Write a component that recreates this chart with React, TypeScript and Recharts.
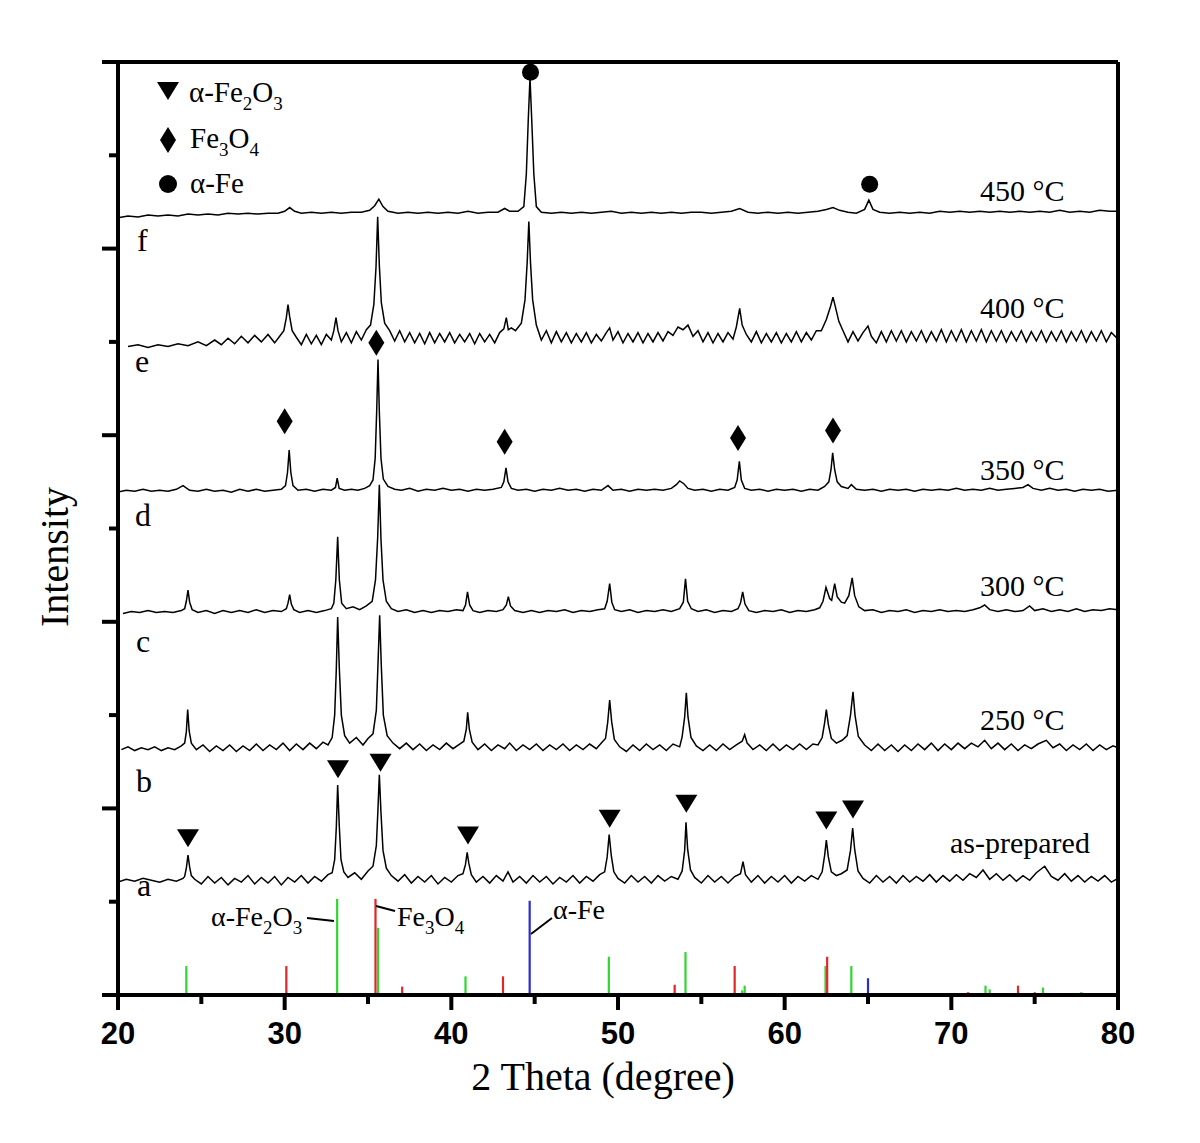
import React from 'react';
import { ComposedChart, Line, Scatter, XAxis, YAxis, ReferenceLine } from 'recharts';

// 2θ tick marks and intensity ticks (a.u., stacked patterns)
const xTicks = [20, 25, 30, 35, 40, 45, 50, 55, 60, 65, 70, 75, 80];
const yTicks = [0, 100, 200, 300, 400, 500, 600, 700, 800, 900, 1000];

// XRD patterns [2θ, intensity] (vertically stacked as in the figure)
const asPrepared: number[][] = [
  [20.0,121],[20.5,124],[21.0,122],[21.5,125],[22.0,123],[22.5,121],[23.0,124],[23.5,122],[23.9,125],
  [24.0,127],[24.1,136],[24.2,150],[24.3,137],[24.4,128],
  [24.6,124],[25.0,119],[25.4,127],[25.8,120],[26.2,126],[26.6,118],[27.0,125],[27.4,121],[27.8,128],[28.2,119],[28.6,126],[29.0,120],[29.4,127],[29.8,118],[30.2,126],[30.6,121],[31.0,128],[31.4,120],[31.8,127],[32.2,122],[32.6,129],
  [32.85,131],[33.0,145],[33.1,180],[33.18,225],[33.28,180],[33.38,145],[33.55,132],
  [33.8,126],[34.2,131],[34.6,124],[35.0,133],
  [35.3,138],[35.5,160],[35.6,200],[35.68,236],[35.78,195],[35.9,155],[36.1,136],
  [36.4,128],[36.8,122],[37.2,129],[37.6,120],[38.0,127],[38.4,121],[38.8,128],[39.2,119],[39.6,126],[40.0,121],[40.4,128],
  [40.7,130],[40.85,140],[40.95,153],[41.05,141],[41.2,129],
  [41.5,121],[41.9,127],[42.3,120],[42.7,128],[43.1,122],[43.4,132],[43.7,121],[44.1,127],[44.5,120],[44.9,128],[45.3,121],[45.7,127],[46.1,119],[46.5,126],[46.9,121],[47.3,128],[47.7,120],[48.1,127],[48.5,122],[48.9,129],
  [49.2,132],[49.35,148],[49.47,172],[49.6,149],[49.75,132],
  [50.0,125],[50.4,120],[50.8,128],[51.2,121],[51.6,127],[52.0,120],[52.4,128],[52.8,122],[53.2,127],[53.6,124],
  [53.85,133],[54.0,155],[54.08,185],[54.18,156],[54.35,134],
  [54.6,126],[55.0,120],[55.4,128],[55.8,121],[56.2,127],[56.6,120],[57.0,127],[57.35,130],[57.5,143],[57.65,129],[58.0,121],[58.4,128],[58.8,120],[59.2,127],[59.6,121],[60.0,128],[60.4,120],[60.8,127],[61.2,122],[61.6,128],[62.0,124],
  [62.25,132],[62.4,150],[62.5,166],[62.62,148],[62.8,132],[63.1,128],[63.4,130],
  [63.75,134],[63.95,155],[64.08,179],[64.2,156],[64.4,133],
  [64.7,125],[65.1,120],[65.5,128],[65.9,121],[66.3,127],[66.7,120],[67.1,128],[67.5,121],[67.9,127],[68.3,122],[68.7,129],[69.1,121],[69.5,128],[69.9,122],[70.3,129],[70.7,123],[71.1,130],[71.5,126],[71.9,134],[72.3,124],[72.7,130],[73.1,123],[73.5,129],[73.9,122],[74.3,128],[74.7,123],[75.1,131],[75.6,138],[76.0,127],[76.4,123],[76.8,130],[77.2,122],[77.6,128],[78.0,121],[78.4,127],[78.8,122],[79.2,128],[79.6,121],[80.0,125],
];

const t250: number[][] = [
  [20.2,263],[20.6,266],[21.0,262],[21.4,265],[21.8,263],[22.2,266],[22.6,262],[23.0,265],[23.4,263],[23.8,267],
  [24.0,270],[24.1,282],[24.18,306],[24.27,283],[24.4,270],
  [24.7,263],[25.1,268],[25.5,261],[25.9,267],[26.3,262],[26.7,268],[27.1,261],[27.5,267],[27.9,262],[28.3,269],[28.7,262],[29.1,268],[29.5,263],[29.9,270],[30.3,262],[30.7,269],[31.1,263],[31.5,270],[31.9,264],[32.3,271],[32.6,268],
  [32.85,276],[33.0,300],[33.1,350],[33.18,405],[33.28,350],[33.4,300],[33.6,278],
  [33.9,270],[34.3,276],[34.7,268],[35.0,275],
  [35.3,280],[35.5,305],[35.6,355],[35.7,407],[35.8,352],[35.92,300],[36.15,278],
  [36.5,270],[36.9,264],[37.3,270],[37.7,263],[38.1,269],[38.5,262],[38.9,268],[39.3,263],[39.7,270],[40.1,264],[40.5,269],
  [40.75,272],[40.9,285],[40.98,303],[41.08,285],[41.25,271],
  [41.6,263],[42.0,269],[42.4,262],[42.8,268],[43.2,264],[43.5,270],[43.9,262],[44.3,268],[44.7,263],[45.1,269],[45.5,262],[45.9,268],[46.3,263],[46.7,269],[47.1,262],[47.5,268],[47.9,263],[48.3,269],[48.7,264],[49.0,270],
  [49.25,275],[49.38,292],[49.5,316],[49.62,293],[49.78,274],
  [50.1,266],[50.5,261],[50.9,268],[51.3,262],[51.7,269],[52.1,263],[52.5,268],[52.9,262],[53.3,269],[53.7,266],
  [53.85,277],[54.0,298],[54.1,324],[54.2,298],[54.38,276],
  [54.7,267],[55.1,262],[55.5,268],[55.9,262],[56.3,269],[56.7,263],[57.1,268],[57.45,272],[57.6,279],[57.75,270],[58.1,263],[58.5,268],[58.9,262],[59.3,269],[59.7,262],[60.1,268],[60.5,263],[60.9,269],[61.3,263],[61.7,269],[62.0,268],
  [62.25,276],[62.4,292],[62.5,306],[62.62,290],[62.8,275],[63.1,270],[63.45,273],
  [63.75,278],[63.95,300],[64.1,325],[64.22,300],[64.42,277],
  [64.8,268],[65.2,262],[65.6,269],[66.0,262],[66.4,268],[66.8,261],[67.2,268],[67.6,262],[68.0,269],[68.4,263],[68.8,270],[69.2,262],[69.6,269],[70.0,263],[70.4,270],[70.8,264],[71.2,270],[71.6,266],[72.0,273],[72.4,264],[72.8,270],[73.2,263],[73.6,269],[74.0,262],[74.4,268],[74.8,264],[75.2,269],[75.7,273],[76.1,265],[76.5,269],[76.9,262],[77.3,268],[77.7,263],[78.1,269],[78.5,262],[78.9,268],[79.3,263],[79.7,267],[80.0,265],
];

const t300: number[][] = [
  [20.3,409],[20.8,411],[21.3,410],[21.8,412],[22.3,410],[22.8,411],[23.3,410],[23.8,412],
  [24.0,414],[24.1,422],[24.2,434],[24.3,421],[24.45,413],
  [24.8,410],[25.3,412],[25.8,409],[26.3,412],[26.8,410],[27.3,412],[27.8,410],[28.3,413],[28.8,410],[29.3,412],[29.8,411],
  [30.1,414],[30.2,420],[30.3,429],[30.4,419],[30.55,413],
  [30.9,410],[31.4,412],[31.9,410],[32.4,412],[32.8,414],
  [32.95,420],[33.07,445],[33.18,491],[33.28,445],[33.42,420],
  [33.7,414],[34.1,416],[34.5,413],[34.9,417],
  [35.25,422],[35.45,445],[35.58,490],[35.68,547],[35.78,488],[35.9,445],[36.1,422],
  [36.4,414],[36.8,411],[37.3,413],[37.8,410],[38.3,412],[38.8,410],[39.3,412],[39.8,411],[40.3,413],[40.7,412],
  [40.85,418],[40.97,432],[41.1,418],[41.3,412],
  [41.7,410],[42.2,412],[42.7,411],[43.1,413],
  [43.3,418],[43.42,427],[43.55,417],[43.8,412],
  [44.3,410],[44.8,412],[45.3,410],[45.8,412],[46.3,411],[46.8,413],[47.3,410],[47.8,412],[48.3,411],[48.8,413],[49.2,414],
  [49.35,422],[49.5,441],[49.63,421],[49.8,413],
  [50.2,411],[50.7,413],[51.2,410],[51.7,412],[52.2,411],[52.7,413],[53.2,411],[53.7,414],
  [53.92,421],[54.05,446],[54.18,422],[54.4,414],
  [54.8,411],[55.3,413],[55.8,410],[56.3,412],[56.8,411],[57.2,414],
  [57.35,420],[57.48,432],[57.62,419],[57.85,412],
  [58.3,410],[58.8,412],[59.3,411],[59.8,413],[60.3,410],[60.8,412],[61.3,411],[61.8,413],[62.1,415],
  [62.3,422],[62.48,437],[62.7,425],[62.82,423],[63.0,441],[63.15,427],[63.4,421],[63.6,420],[63.85,428],[64.05,447],[64.2,428],[64.45,416],
  [64.8,412],[65.3,413],[65.8,410],[66.3,412],[66.8,411],[67.3,413],[67.8,410],[68.3,412],[68.8,411],[69.3,413],[69.8,411],[70.3,412],[70.8,411],[71.3,413],[71.7,415],[72.0,418],[72.3,413],[72.8,411],[73.3,413],[73.8,411],[74.3,412],[74.7,417],[75.0,412],[75.5,414],[76.0,411],[76.5,413],[77.0,411],[77.5,414],[78.0,411],[78.5,413],[79.0,412],[79.5,414],[80.0,413],
];

const t350: number[][] = [
  [20.0,539],[20.5,541],[21.0,540],[21.5,542],[22.0,540],[22.5,541],[23.0,540],[23.5,542],[23.9,546],[24.3,541],[24.8,540],[25.3,542],[25.8,540],[26.3,541],[26.8,539],[27.3,542],[27.8,540],[28.3,542],[28.8,540],[29.3,541],[29.8,542],
  [30.05,546],[30.17,560],[30.27,584],[30.37,560],[30.5,546],
  [30.8,541],[31.3,542],[31.8,540],[32.3,542],[32.8,541],[33.05,544],[33.15,554],[33.27,543],[33.6,541],[34.0,542],[34.4,541],[34.8,543],[35.1,546],
  [35.3,552],[35.43,575],[35.52,625],[35.6,681],[35.68,625],[35.78,575],[35.92,553],[36.2,545],
  [36.6,542],[37.0,541],[37.5,543],[38.0,540],[38.5,542],[39.0,541],[39.5,543],[40.0,541],[40.5,542],[41.0,540],[41.5,542],[42.0,541],[42.5,542],[43.0,544],
  [43.15,550],[43.28,565],[43.4,550],[43.6,543],
  [44.0,541],[44.5,542],[45.0,540],[45.5,542],[46.0,541],[46.5,543],[47.0,541],[47.5,542],[48.0,540],[48.5,542],[49.0,541],[49.4,546],[49.7,541],[50.2,542],[50.7,540],[51.2,542],[51.7,541],[52.2,542],[52.7,541],[53.2,543],
  [53.5,547],[53.7,551],[53.95,548],[54.2,543],
  [54.6,541],[55.1,542],[55.6,540],[56.1,542],[56.6,541],[57.0,544],
  [57.15,552],[57.28,572],[57.4,552],[57.6,543],
  [58.0,541],[58.5,542],[59.0,540],[59.5,542],[60.0,541],[60.5,542],[61.0,540],[61.5,542],[62.0,541],[62.4,545],
  [62.65,550],[62.78,563],[62.88,581],[63.0,563],[63.15,550],[63.4,545],
  [63.8,543],[64.0,547],[64.3,542],[64.8,541],[65.3,542],[65.8,540],[66.3,542],[66.8,541],[67.3,542],[67.8,540],[68.3,542],[68.8,541],[69.3,542],[69.8,541],[70.3,543],[70.8,541],[71.3,542],[71.8,541],[72.3,543],[72.8,541],[73.3,542],[73.8,543],[74.3,544],[74.6,547],[74.9,543],[75.4,541],[75.9,543],[76.4,541],[76.9,542],[77.4,540],[77.9,542],[78.4,541],[78.9,542],[79.4,540],[80.0,541],
];

const t400: number[][] = [
  [20.6,695],[21.2,697],[21.8,694],[22.4,697],[23.0,695],[23.6,698],[24.2,696],[24.8,700],[25.3,696],[25.8,702],[26.2,697],[26.6,704],[27.0,698],[27.4,706],[27.8,699],[28.2,707],[28.6,700],[29.0,708],[29.4,699],[29.7,706],
  [29.95,712],[30.1,726],[30.2,740],[30.3,727],[30.45,712],
  [30.7,705],[31.0,697],[31.3,708],[31.6,698],[31.9,707],[32.2,697],[32.5,708],[32.8,702],
  [32.95,712],[33.08,726],[33.2,712],[33.4,700],[33.7,710],[34.0,699],[34.3,711],[34.6,702],[34.9,713],
  [35.15,718],[35.35,740],[35.48,780],[35.58,834],[35.68,782],[35.8,742],[36.0,720],
  [36.3,712],[36.6,701],[36.9,712],[37.2,700],[37.5,710],[37.8,699],[38.1,709],[38.4,698],[38.7,710],[39.0,699],[39.3,709],[39.6,700],[39.9,710],[40.2,699],[40.5,708],[40.8,700],[41.1,709],[41.4,698],[41.7,709],[42.0,700],[42.3,708],[42.6,699],[42.9,710],
  [43.15,714],[43.3,726],[43.42,713],[43.6,715],[43.85,712],
  [44.2,720],[44.42,745],[44.55,785],[44.65,829],[44.75,785],[44.88,745],[45.1,718],
  [45.4,702],[45.7,712],[46.0,699],[46.3,711],[46.6,700],[46.9,710],[47.2,699],[47.5,709],[47.8,700],[48.1,710],[48.4,699],[48.7,708],[49.0,701],[49.3,710],
  [49.5,715],[49.7,702],
  [50.0,711],[50.3,699],[50.6,709],[50.9,700],[51.2,710],[51.5,699],[51.8,709],[52.1,700],[52.4,710],[52.7,701],[53.0,711],
  [53.3,707],[53.6,716],[53.9,713],[54.2,718],[54.5,706],[54.8,712],
  [55.1,700],[55.4,710],[55.7,699],[56.0,709],[56.3,700],[56.6,710],[56.9,703],
  [57.1,716],[57.3,736],[57.45,718],[57.7,708],
  [58.0,700],[58.3,711],[58.6,699],[58.9,709],[59.2,700],[59.5,710],[59.8,699],[60.1,709],[60.4,700],[60.7,711],[61.0,700],[61.3,710],[61.6,702],[61.9,712],
  [62.2,712],[62.5,724],[62.75,738],[62.9,748],[63.05,737],[63.25,722],[63.5,712],
  [63.8,700],[64.1,711],[64.4,701],[64.7,710],[65.0,717],[65.2,706],
  [65.5,699],[65.8,711],[66.1,700],[66.4,712],[66.7,701],[67.0,712],[67.3,700],[67.6,711],[67.9,701],[68.2,712],[68.5,700],[68.8,711],[69.1,701],[69.4,713],[69.7,700],[70.0,712],[70.3,701],[70.6,713],[70.9,700],[71.2,712],[71.5,701],[71.8,713],[72.1,700],[72.4,712],[72.7,701],[73.0,712],[73.3,700],[73.6,711],[73.9,701],[74.2,712],[74.5,700],[74.8,711],[75.1,701],[75.4,712],[75.7,700],[76.0,711],[76.3,701],[76.6,712],[76.9,700],[77.2,711],[77.5,701],[77.8,712],[78.1,700],[78.4,711],[78.7,701],[79.0,712],[79.3,700],[79.6,710],[80.0,703],
];

const t450: number[][] = [
  [20.0,833],[20.6,835],[21.2,834],[21.8,836],[22.4,835],[23.0,836],[23.6,835],[24.2,837],[24.8,836],[25.4,837],[26.0,836],[26.6,838],[27.2,837],[27.8,838],[28.4,837],[29.0,838],[29.6,838],[30.0,840],[30.3,844],[30.6,840],[31.0,838],[31.6,839],[32.2,838],[32.8,839],[33.4,838],[34.0,839],[34.6,839],[35.1,841],[35.4,846],[35.65,853],[35.9,845],[36.2,840],[36.8,838],[37.4,839],[38.0,838],[38.6,839],[39.2,838],[39.8,839],[40.4,838],[41.0,840],[41.6,838],[42.2,839],[42.8,839],[43.2,843],[43.5,840],[44.0,840],
  [44.35,845],[44.5,880],[44.62,940],[44.72,983],[44.82,940],[44.95,880],[45.1,845],
  [45.4,839],[46.0,838],[46.6,839],[47.2,838],[47.8,839],[48.4,838],[49.0,839],[49.6,840],[50.2,838],[50.8,839],[51.4,838],[52.0,839],[52.6,838],[53.2,839],[53.8,838],[54.4,839],[55.0,839],[55.6,838],[56.2,839],[56.8,840],[57.3,843],[57.8,839],[58.4,838],[59.0,839],[59.6,838],[60.2,839],[60.8,838],[61.4,839],[62.0,840],[62.5,842],[62.9,844],[63.3,841],[63.8,839],[64.3,838],[64.8,842],[65.05,852],[65.3,842],[65.7,839],[66.3,838],[66.9,839],[67.5,838],[68.1,839],[68.7,838],[69.3,840],[69.9,839],[70.5,840],[71.1,839],[71.7,840],[72.3,839],[72.9,840],[73.5,839],[74.1,840],[74.7,839],[75.3,840],[75.9,839],[76.5,841],[77.1,839],[77.7,840],[78.3,839],[78.9,841],[79.5,840],[80.0,840],
];

// Phase markers [2θ, position]
const hematiteMarks: number[][] = [[24.2,169],[33.2,243],[35.75,250],[41.0,172],[49.5,190],[54.1,206],[62.5,188],[64.1,200]];
const magnetiteMarks: number[][] = [[30.0,615],[35.5,699],[43.2,593],[57.2,597],[62.9,605]];
const ironMarks: number[][] = [[44.75,989],[65.1,869]];

// Standard reference patterns [2θ, relative intensity]
const hematiteRef: number[][] = [[24.1,31],[33.15,103],[35.6,72],[39.3,2],[40.85,20],[43.5,2],[49.45,41],[54.05,46],[57.45,5],[57.6,10],[62.45,31],[64.0,31],[72.05,10],[72.3,6],[75.5,8],[77.8,3]];
const magnetiteRef: number[][] = [[30.1,31],[35.45,103],[37.05,9],[43.1,20],[53.4,11],[57.0,31],[62.55,41],[71.0,3],[74.0,10],[75.0,3]];
const ironRef: number[][] = [[44.7,101],[65.0,18]];

const toPts = (arr: number[][]) => arr.map(([x, y]) => ({ x, y }));

const SERIF = '"Liberation Serif", "Times New Roman", serif';
const SANS = '"Liberation Sans", Arial, sans-serif';

const XTick = (props: any) => {
  const { x, y, payload } = props;
  const major = payload.value % 10 === 0;
  return (
    <g>
      <line x1={x} x2={x} y1={y} y2={y + (major ? 15 : 9)} stroke="#000" strokeWidth={4} />
      {major && (
        <text x={x} y={y + 49} textAnchor="middle" fontFamily={SANS} fontWeight="bold" fontSize={31} fill="#000">
          {payload.value}
        </text>
      )}
    </g>
  );
};

const YTick = (props: any) => {
  const { x, y, payload } = props;
  const major = payload.value % 200 === 0;
  return <line x1={x} x2={x - (major ? 16 : 9)} y1={y} y2={y} stroke="#000" strokeWidth={4} />;
};

const TriDown = (p: any) => (
  <path d={`M${p.cx - 11},${p.cy - 8} L${p.cx + 11},${p.cy - 8} L${p.cx},${p.cy + 10} Z`} fill="#000" />
);
const Diamond = (p: any) => (
  <path d={`M${p.cx},${p.cy - 13} L${p.cx + 8},${p.cy} L${p.cx},${p.cy + 13} L${p.cx - 8},${p.cy} Z`} fill="#000" />
);
const Dot = (p: any) => <circle cx={p.cx} cy={p.cy} r={8.5} fill="#000" />;

const refColors = { hem: '#2fd62f', mag: '#e02626', fe: '#2a2ad6' };

const Sub = ({ children }: any) => (
  <tspan fontSize={19} dy={8}>{children}</tspan>
);
const Up = ({ children }: any) => <tspan dy={-8}>{children}</tspan>;

export default function App() {
  const W = 1184;
  const H = 1127;
  const traces = [asPrepared, t250, t300, t350, t400, t450];
  return (
    <div style={{ position: 'relative', width: W, height: H, background: '#fff' }}>
      <ComposedChart width={W} height={H} margin={{ top: 54, right: 74, bottom: 100, left: 80 }}>
        <XAxis
          type="number"
          dataKey="x"
          domain={[20, 80]}
          ticks={xTicks}
          allowDataOverflow
          height={40}
          tickSize={0}
          tickMargin={0}
          tickLine={false}
          tick={<XTick />}
          axisLine={{ stroke: '#000', strokeWidth: 4 }}
          interval={0}
        />
        <YAxis
          type="number"
          dataKey="y"
          domain={[0, 1000]}
          ticks={yTicks}
          allowDataOverflow
          width={30}
          tickSize={0}
          tickMargin={0}
          tickLine={false}
          tick={<YTick />}
          axisLine={{ stroke: '#000', strokeWidth: 4 }}
          interval={0}
        />
        <ReferenceLine y={1000} stroke="#000" strokeWidth={4} ifOverflow="visible" />
        <ReferenceLine x={80} stroke="#000" strokeWidth={4} ifOverflow="visible" />
        {hematiteRef.map(([x, h], i) => (
          <ReferenceLine key={'h' + i} segment={[{ x, y: 0 }, { x, y: h }]} stroke={refColors.hem} strokeWidth={2.2} ifOverflow="visible" />
        ))}
        {magnetiteRef.map(([x, h], i) => (
          <ReferenceLine key={'m' + i} segment={[{ x, y: 0 }, { x, y: h }]} stroke={refColors.mag} strokeWidth={2.2} ifOverflow="visible" />
        ))}
        {ironRef.map(([x, h], i) => (
          <ReferenceLine key={'f' + i} segment={[{ x, y: 0 }, { x, y: h }]} stroke={refColors.fe} strokeWidth={2.2} ifOverflow="visible" />
        ))}
        {traces.map((t, i) => (
          <Line
            key={'t' + i}
            data={toPts(t)}
            dataKey="y"
            type="linear"
            stroke="#000"
            strokeWidth={1.5}
            dot={false}
            activeDot={false}
            isAnimationActive={false}
          />
        ))}
        <Scatter data={toPts(hematiteMarks)} dataKey="y" shape={<TriDown />} isAnimationActive={false} />
        <Scatter data={toPts(magnetiteMarks)} dataKey="y" shape={<Diamond />} isAnimationActive={false} />
        <Scatter data={toPts(ironMarks)} dataKey="y" shape={<Dot />} isAnimationActive={false} />
      </ComposedChart>
      <svg width={W} height={H} style={{ position: 'absolute', left: 0, top: 0, pointerEvents: 'none' }}>
        <g transform="translate(-8,-8)" fontFamily={SERIF} fill="#000">
          {/* legend */}
          <path d="M157,82 L179,82 L168,100 Z" fill="#000" />
          <text x={189} y={102} fontSize={29}>α-Fe<Sub>2</Sub><Up>O</Up><Sub>3</Sub></text>
          <path d="M168,127 L176,140 L168,153 L160,140 Z" fill="#000" />
          <text x={190} y={148} fontSize={29}>Fe<Sub>3</Sub><Up>O</Up><Sub>4</Sub></text>
          <circle cx={168} cy={184} r={9} fill="#000" />
          <text x={190} y={193} fontSize={29}>α-Fe</text>
          {/* temperature labels */}
          <text x={980} y={201} fontSize={30}>450 °C</text>
          <text x={980} y={318} fontSize={30}>400 °C</text>
          <text x={980} y={480} fontSize={30}>350 °C</text>
          <text x={980} y={596} fontSize={30}>300 °C</text>
          <text x={980} y={730} fontSize={30}>250 °C</text>
          <text x={950} y={853} fontSize={30}>as-prepared</text>
          {/* sample letters */}
          <text x={137} y={251} fontSize={32}>f</text>
          <text x={135} y={372} fontSize={32}>e</text>
          <text x={135} y={526} fontSize={32}>d</text>
          <text x={136} y={652} fontSize={32}>c</text>
          <text x={136} y={792} fontSize={32}>b</text>
          <text x={137} y={896} fontSize={32}>a</text>
          {/* reference labels */}
          <text x={211} y={926} fontSize={28}>α-Fe<Sub>2</Sub><Up>O</Up><Sub>3</Sub></text>
          <line x1={307} y1={918} x2={334} y2={921} stroke="#000" strokeWidth={2} />
          <text x={397} y={926} fontSize={28}>Fe<Sub>3</Sub><Up>O</Up><Sub>4</Sub></text>
          <line x1={376} y1={906} x2={395} y2={911} stroke="#000" strokeWidth={2} />
          <text x={553} y={919} fontSize={28}>α-Fe</text>
          <line x1={531} y1={934} x2={552} y2={918} stroke="#000" strokeWidth={2} />
          {/* axis titles */}
          <text x={603} y={1090} fontSize={40} textAnchor="middle">2 Theta (degree)</text>
          <text x={0} y={0} fontSize={40} textAnchor="middle" transform="translate(68,557) rotate(-90)">Intensity</text>
        </g>
      </svg>
    </div>
  );
}
